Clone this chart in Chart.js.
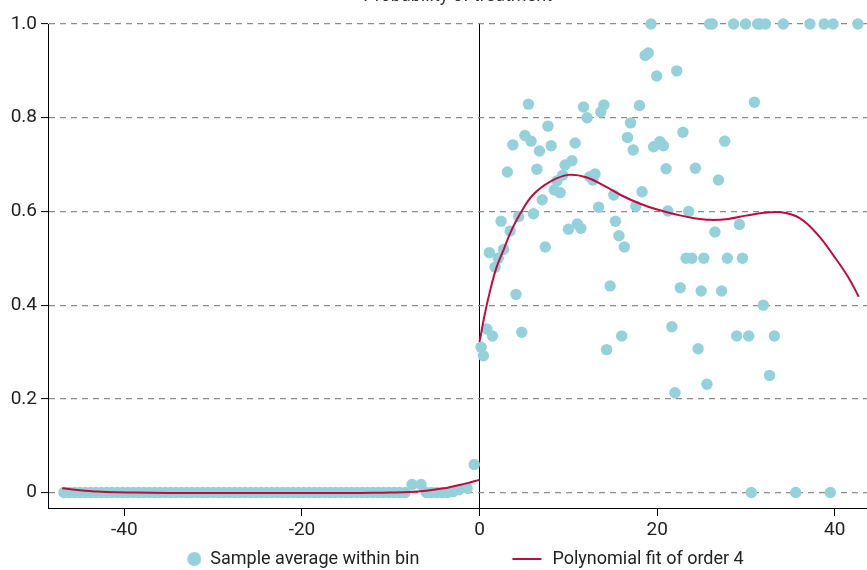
<!DOCTYPE html>
<html>
<head>
<meta charset="utf-8">
<script src="https://cdn.jsdelivr.net/npm/chart.js@4.4.1/dist/chart.umd.min.js"></script>
<style>
  html, body { margin: 0; padding: 0; background: #fff; overflow: hidden; }
  #wrap { position: absolute; left: -46px; top: -15px; width: 919px; height: 593px; }
</style>
</head>
<body>
<div id="wrap"><canvas id="rdplot" width="919" height="593"></canvas></div>
<script>
// binned sample averages, left of cutoff
const leftBinX = [-46.8, -46.2, -45.6, -45.0, -44.4, -43.8, -43.2, -42.6, -42.0, -41.4, -40.8, -40.2,
  -39.6, -39.0, -38.4, -37.8, -37.2, -36.6, -36.0, -35.4, -34.8, -34.2, -33.6, -33.0, -32.4, -31.8,
  -31.2, -30.6, -30.0, -29.4, -28.8, -28.2, -27.6, -27.0, -26.4, -25.8, -25.2, -24.6, -24.0, -23.4,
  -22.8, -22.2, -21.6, -21.0, -20.4, -19.8, -19.2, -18.6, -18.0, -17.4, -16.8, -16.2, -15.6, -15.0,
  -14.4, -13.8, -13.2, -12.6, -12.0, -11.4, -10.8, -10.2, -9.6, -9.0, -8.4, -7.6, -6.6, -6.0, -5.4,
  -4.8, -4.2, -3.6, -3.0, -2.3, -1.4, -0.6];
const leftBinY = [0, 0, 0, 0, 0, 0, 0, 0, 0, 0, 0, 0,
  0, 0, 0, 0, 0, 0, 0, 0, 0, 0, 0, 0, 0, 0,
  0, 0, 0, 0, 0, 0, 0, 0, 0, 0, 0, 0, 0, 0,
  0, 0, 0, 0, 0, 0, 0, 0, 0, 0, 0, 0, 0, 0,
  0, 0, 0, 0, 0, 0, 0, 0, 0, 0, 0, 0.017, 0.017, 0, 0,
  0, 0, 0, 0.002, 0.006, 0.009, 0.06];

// binned sample averages, right of cutoff
const rightBinX = [0.17, 0.43, 0.81, 1.1, 1.45, 1.75, 2.1, 2.42, 2.7, 3.13, 3.44, 3.75, 4.1, 4.4, 4.75,
  5.1, 5.5, 5.8, 6.06, 6.45, 6.74, 7.05, 7.4, 7.7, 8.06, 8.4, 8.7, 9.07, 9.35, 9.63, 10.0, 10.4, 10.76,
  11.0, 11.4, 11.7, 12.1, 12.4, 12.75, 13.0, 13.4, 13.65, 14.0, 14.3, 14.7, 15.1, 15.3, 15.7, 16.0,
  16.3, 16.65, 17.0, 17.3, 17.6, 18.0, 18.3, 18.65, 19.0, 19.3, 19.6, 19.95, 20.3, 20.7, 21.0, 21.2,
  21.65, 22.0, 22.2, 22.6, 22.9, 23.25, 23.55, 23.9, 24.3, 24.6, 24.95, 25.25, 25.6, 25.9, 26.2, 26.5,
  26.9, 27.25, 27.6, 27.9, 28.6, 28.95, 29.25, 29.6, 29.95, 30.3, 30.6, 30.95, 31.3, 31.6, 31.95,
  32.2, 32.65, 33.2, 34.2, 35.6, 37.2, 38.8, 39.5, 39.8, 42.6];
const rightBinY = [0.31, 0.292, 0.349, 0.512, 0.334, 0.481, 0.5, 0.579, 0.519, 0.684, 0.558, 0.742, 0.423, 0.589, 0.342,
  0.762, 0.829, 0.75, 0.595, 0.69, 0.729, 0.625, 0.524, 0.782, 0.74, 0.646, 0.665, 0.64, 0.677, 0.699, 0.562, 0.708, 0.746,
  0.573, 0.564, 0.823, 0.8, 0.674, 0.667, 0.68, 0.609, 0.812, 0.827, 0.305, 0.441, 0.635, 0.579, 0.548, 0.334,
  0.524, 0.758, 0.789, 0.731, 0.611, 0.826, 0.642, 0.933, 0.938, 1.0, 0.738, 0.889, 0.749, 0.74, 0.691, 0.601,
  0.354, 0.213, 0.9, 0.437, 0.769, 0.5, 0.6, 0.5, 0.692, 0.307, 0.43, 0.5, 0.231, 1.0, 1.0, 0.556,
  0.667, 0.43, 0.75, 0.5, 1.0, 0.334, 0.572, 0.5, 1.0, 0.334, 0, 0.833, 1.0, 1.0, 0.4,
  1.0, 0.25, 0.334, 1.0, 0, 1.0, 1.0, 0, 1.0, 1.0];

const fitLeftX = [-47, -45, -43, -41, -39, -35, -30, -25, -20, -15, -12, -10, -8, -6, -4, -3, -2, -1, 0];
const fitLeftY = [0.009, 0.005, 0.002, 0.0005, 0, -0.001, -0.001, -0.001, -0.001, -0.001, -0.0005, 0, 0.001, 0.004, 0.009, 0.013, 0.017, 0.022, 0.027];
const fitRightX = [0, 0.6, 1.2, 1.9, 2.7, 3.6, 4.6, 6, 8, 10, 12, 14, 16, 18, 20, 22, 24, 26, 28, 30, 32, 34, 36, 38, 40, 41.5, 42.7];
const fitRightY = [0.322, 0.382, 0.432, 0.48, 0.518, 0.56, 0.596, 0.635, 0.664, 0.678, 0.673, 0.655, 0.634, 0.617, 0.604, 0.594, 0.586, 0.582, 0.584, 0.591, 0.597, 0.598, 0.586, 0.552, 0.502, 0.46, 0.418];

const xTicks = [-40, -20, 0, 20, 40];
const yTicks = [0, 0.2, 0.4, 0.6, 0.8, 1];
const yTickLabels = ['0', '0.2', '0.4', '0.6', '0.8', '1.0'];

const dotColor = '#95d1da';
const fitColor = '#c10a3d';
const legendBox = 118;

Chart.defaults.font.family = "Roboto, 'Liberation Sans', sans-serif";
Chart.defaults.font.size = 19;
Chart.defaults.color = '#222';

const binPoints = leftBinX.map((x, i) => ({x: x, y: leftBinY[i]}))
  .concat(rightBinX.map((x, i) => ({x: x, y: rightBinY[i]})));
const fitPoints = fitLeftX.map((x, i) => ({x: x, y: fitLeftY[i]}))
  .concat([{x: 0, y: null}])
  .concat(fitRightX.map((x, i) => ({x: x, y: fitRightY[i]})));

// small legend glyphs
function dotIcon() {
  const c = document.createElement('canvas');
  c.width = legendBox; c.height = 16;
  const g = c.getContext('2d');
  g.fillStyle = dotColor;
  g.beginPath();
  g.arc(legendBox - 7, 8, 7, 0, Math.PI * 2);
  g.fill();
  return c;
}
function lineIcon() {
  const c = document.createElement('canvas');
  c.width = legendBox; c.height = 16;
  const g = c.getContext('2d');
  g.strokeStyle = fitColor;
  g.lineWidth = 2;
  g.beginPath();
  g.moveTo(legendBox - 31, 8);
  g.lineTo(legendBox - 2, 8);
  g.stroke();
  return c;
}
const dotImg = dotIcon();
const lineImg = lineIcon();

new Chart(document.getElementById('rdplot'), {
  type: 'scatter',
  data: {
    datasets: [{
      label: 'Sample average within bin',
      data: binPoints,
      backgroundColor: dotColor,
      borderColor: dotColor,
      pointRadius: 5.7,
      pointHoverRadius: 5.7,
      borderWidth: 0,
      clip: false,
      order: 2
    }, {
      label: 'Polynomial fit of order 4',
      data: fitPoints,
      showLine: true,
      spanGaps: false,
      borderColor: fitColor,
      borderWidth: 2,
      pointRadius: 0,
      tension: 0.4,
      clip: false,
      order: 1
    }]
  },
  options: {
    responsive: false,
    animation: false,
    layout: { padding: 0 },
    plugins: {
      tooltip: { enabled: false },
      title: {
        display: true,
        text: 'Probability of treatment',
        fullSize: false,
        color: '#333',
        font: { size: 18, weight: 'normal' },
        padding: { top: 0.8, bottom: 16.6 }
      },
      legend: {
        position: 'bottom',
        labels: {
          usePointStyle: true,
          pointStyleWidth: legendBox,
          padding: 6,
          color: '#222',
          font: { size: 18 },
          generateLabels: () => [
            { text: 'Sample average within bin', pointStyle: dotImg, fillStyle: dotColor,
              strokeStyle: dotColor, lineWidth: 0, hidden: false, datasetIndex: 0, fontColor: '#222' },
            { text: 'Polynomial fit of order 4', pointStyle: lineImg, fillStyle: fitColor,
              strokeStyle: fitColor, lineWidth: 0, hidden: false, datasetIndex: 1, fontColor: '#222' }
          ]
        }
      }
    },
    scales: {
      x: {
        type: 'linear',
        min: -48.6,
        max: 43.66,
        afterBuildTicks: s => { s.ticks = xTicks.map(v => ({value: v})); },
        afterFit: s => { s.height = 36; },
        grid: {
          drawOnChartArea: true,
          color: c => (c.tick && c.tick.value === 0) ? '#000' : 'rgba(0,0,0,0)',
          lineWidth: 1,
          tickColor: '#000',
          tickLength: 8,
          tickWidth: 1
        },
        border: { color: '#000', width: 1 },
        ticks: { padding: 3, maxRotation: 0, callback: v => String(v) }
      },
      y: {
        min: -0.033,
        max: 1,
        afterBuildTicks: s => { s.ticks = yTicks.map(v => ({value: v})); },
        afterFit: s => { s.width = 94; },
        grid: {
          color: '#8c8c8c',
          lineWidth: 1.2,
          tickColor: '#000',
          tickLength: 7,
          tickWidth: 1,
          tickBorderDash: []
        },
        border: { color: '#000', width: 1, dash: [6, 5] },
        ticks: {
          padding: 4,
          callback: (v, i) => yTickLabels[i]
        }
      }
    }
  }
});
</script>
</body>
</html>
